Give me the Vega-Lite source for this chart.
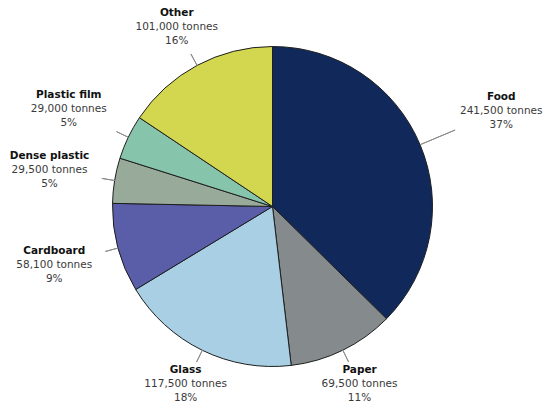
{
  "$schema": "https://vega.github.io/schema/vega-lite/v6.json",
  "width": 545,
  "height": 397,
  "autosize": "none",
  "padding": {"left": 0, "top": 8, "right": 0, "bottom": 0},
  "background": "white",
  "config": {"view": {"stroke": null}},
  "data": {
    "values": [
      {"category": "Food", "tonnes": 241500, "percent": 37, "rank": 1},
      {"category": "Paper", "tonnes": 69500, "percent": 11, "rank": 2},
      {"category": "Glass", "tonnes": 117500, "percent": 18, "rank": 3},
      {"category": "Cardboard", "tonnes": 58100, "percent": 9, "rank": 4},
      {"category": "Dense plastic", "tonnes": 29500, "percent": 5, "rank": 5},
      {"category": "Plastic film", "tonnes": 29000, "percent": 5, "rank": 6},
      {"category": "Other", "tonnes": 101000, "percent": 16, "rank": 7}
    ]
  },
  "transform": [
    {"stack": "tonnes", "groupby": [], "sort": [{"field": "rank", "order": "ascending"}], "as": ["t0", "t1"]},
    {"calculate": "(datum.t0 + datum.t1) / 2", "as": "tmid"},
    {"calculate": "format(datum.tonnes, ',') + ' tonnes'", "as": "tonnesLabel"},
    {"calculate": "datum.percent + '%'", "as": "percentLabel"}
  ],
  "layer": [
    {
      "mark": {"type": "arc", "outerRadius": 160, "stroke": "#1e1e1e", "strokeWidth": 1},
      "encoding": {
        "theta": {"field": "tonnes", "type": "quantitative", "stack": true},
        "order": {"field": "rank", "type": "quantitative"},
        "color": {
          "field": "category", "type": "nominal", "legend": null,
          "scale": {
            "domain": ["Food", "Paper", "Glass", "Cardboard", "Dense plastic", "Plastic film", "Other"],
            "range": ["#10295a", "#858b8c", "#a8cfe3", "#5a5ea9", "#98ab9b", "#86c5ab", "#d3d74f"]
          }
        }
      }
    },
    {
      "transform": [{"filter": "datum.category == 'Food'"}],
      "mark": {"type": "arc", "innerRadius": 160, "outerRadius": 198, "padAngle": 3.1416, "fillOpacity": 0, "stroke": "#8c8c8c", "strokeWidth": 1},
      "encoding": {
        "theta": {"field": "t0", "type": "quantitative", "stack": null},
        "theta2": {"field": "t1"}
      }
    },
    {
      "transform": [{"filter": "datum.category != 'Food'"}],
      "mark": {"type": "arc", "innerRadius": 160, "outerRadius": 173, "padAngle": 3.1416, "fillOpacity": 0, "stroke": "#8c8c8c", "strokeWidth": 1},
      "encoding": {
        "theta": {"field": "t0", "type": "quantitative", "stack": null},
        "theta2": {"field": "t1"}
      }
    },
    {
      "transform": [{"filter": "datum.category == 'Food'"}],
      "mark": {"type": "text", "radius": 248, "dy": -14, "font": "DejaVu Sans", "fontSize": 10.5, "fontWeight": "bold", "color": "#111111"},
      "encoding": {"theta": {"field": "tmid", "type": "quantitative", "stack": null}, "text": {"field": "category"}}
    },
    {
      "transform": [{"filter": "datum.category == 'Food'"}],
      "mark": {"type": "text", "radius": 248, "dy": 0, "font": "DejaVu Sans", "fontSize": 10.5, "color": "#3a3a3a"},
      "encoding": {"theta": {"field": "tmid", "type": "quantitative", "stack": null}, "text": {"field": "tonnesLabel"}}
    },
    {
      "transform": [{"filter": "datum.category == 'Food'"}],
      "mark": {"type": "text", "radius": 248, "dy": 14, "font": "DejaVu Sans", "fontSize": 10.5, "color": "#3a3a3a"},
      "encoding": {"theta": {"field": "tmid", "type": "quantitative", "stack": null}, "text": {"field": "percentLabel"}}
    },
    {
      "transform": [{"filter": "indexof(['Cardboard','Dense plastic','Plastic film'], datum.category) >= 0"}],
      "mark": {"type": "text", "radius": 226, "dy": -14, "font": "DejaVu Sans", "fontSize": 10.5, "fontWeight": "bold", "color": "#111111"},
      "encoding": {"theta": {"field": "tmid", "type": "quantitative", "stack": null}, "text": {"field": "category"}}
    },
    {
      "transform": [{"filter": "indexof(['Cardboard','Dense plastic','Plastic film'], datum.category) >= 0"}],
      "mark": {"type": "text", "radius": 226, "dy": 0, "font": "DejaVu Sans", "fontSize": 10.5, "color": "#3a3a3a"},
      "encoding": {"theta": {"field": "tmid", "type": "quantitative", "stack": null}, "text": {"field": "tonnesLabel"}}
    },
    {
      "transform": [{"filter": "indexof(['Cardboard','Dense plastic','Plastic film'], datum.category) >= 0"}],
      "mark": {"type": "text", "radius": 226, "dy": 14, "font": "DejaVu Sans", "fontSize": 10.5, "color": "#3a3a3a"},
      "encoding": {"theta": {"field": "tmid", "type": "quantitative", "stack": null}, "text": {"field": "percentLabel"}}
    },
    {
      "transform": [{"filter": "indexof(['Paper','Glass'], datum.category) >= 0"}],
      "mark": {"type": "text", "radius": 198, "dy": -14, "font": "DejaVu Sans", "fontSize": 10.5, "fontWeight": "bold", "color": "#111111"},
      "encoding": {"theta": {"field": "tmid", "type": "quantitative", "stack": null}, "text": {"field": "category"}}
    },
    {
      "transform": [{"filter": "indexof(['Paper','Glass'], datum.category) >= 0"}],
      "mark": {"type": "text", "radius": 198, "dy": 0, "font": "DejaVu Sans", "fontSize": 10.5, "color": "#3a3a3a"},
      "encoding": {"theta": {"field": "tmid", "type": "quantitative", "stack": null}, "text": {"field": "tonnesLabel"}}
    },
    {
      "transform": [{"filter": "indexof(['Paper','Glass'], datum.category) >= 0"}],
      "mark": {"type": "text", "radius": 198, "dy": 14, "font": "DejaVu Sans", "fontSize": 10.5, "color": "#3a3a3a"},
      "encoding": {"theta": {"field": "tmid", "type": "quantitative", "stack": null}, "text": {"field": "percentLabel"}}
    },
    {
      "transform": [{"filter": "datum.category == 'Other'"}],
      "mark": {"type": "text", "radius": 203, "dy": -14, "font": "DejaVu Sans", "fontSize": 10.5, "fontWeight": "bold", "color": "#111111"},
      "encoding": {"theta": {"field": "tmid", "type": "quantitative", "stack": null}, "text": {"field": "category"}}
    },
    {
      "transform": [{"filter": "datum.category == 'Other'"}],
      "mark": {"type": "text", "radius": 203, "dy": 0, "font": "DejaVu Sans", "fontSize": 10.5, "color": "#3a3a3a"},
      "encoding": {"theta": {"field": "tmid", "type": "quantitative", "stack": null}, "text": {"field": "tonnesLabel"}}
    },
    {
      "transform": [{"filter": "datum.category == 'Other'"}],
      "mark": {"type": "text", "radius": 203, "dy": 14, "font": "DejaVu Sans", "fontSize": 10.5, "color": "#3a3a3a"},
      "encoding": {"theta": {"field": "tmid", "type": "quantitative", "stack": null}, "text": {"field": "percentLabel"}}
    }
  ]
}
